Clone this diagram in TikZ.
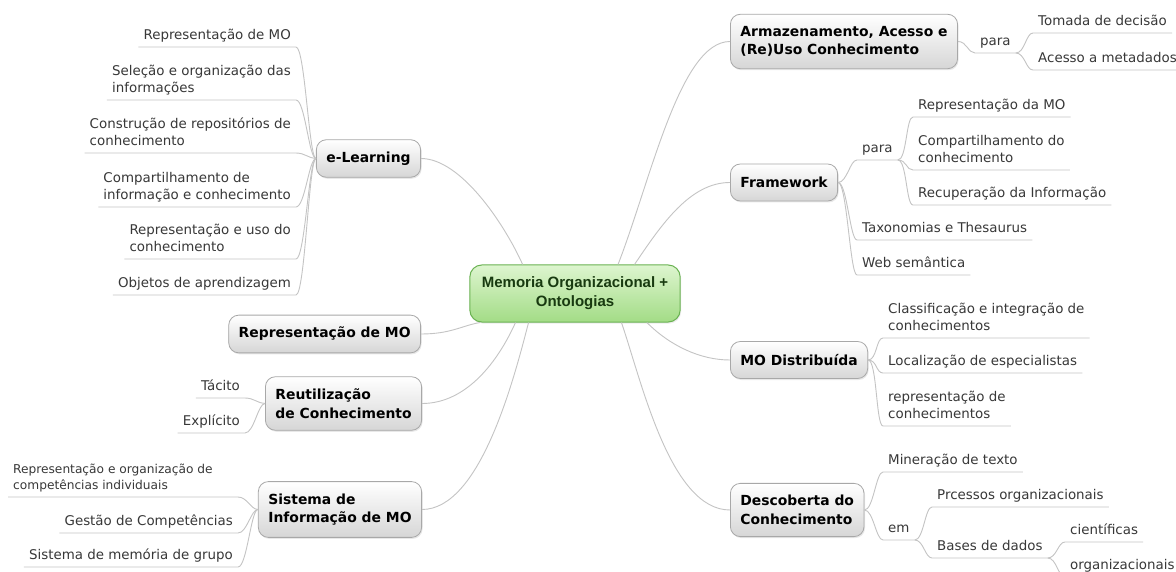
\documentclass[tikz,border=0pt]{standalone}
\usepackage{fontspec}
\setmainfont{DejaVu Sans}
\newfontfamily\corefont{Liberation Sans}
\usetikzlibrary{shadows}
\definecolor{linegray}{HTML}{C4C4C4}
\definecolor{topicline}{HTML}{A8A8A8}
\definecolor{topicbot}{HTML}{D6D6D6}
\definecolor{leaftext}{HTML}{383838}
\definecolor{coretop}{HTML}{DDF5CF}
\definecolor{corebot}{HTML}{A3DC86}
\definecolor{coreline}{HTML}{6AB252}
\definecolor{coretext}{HTML}{183A10}
\newcommand{\lastdp}{\rule[-3.5pt]{0pt}{0pt}}

\begin{document}
\begin{tikzpicture}[x=1pt,y=-1pt,
    topic/.style={rectangle, rounded corners=10pt, draw=topicline, line width=0.8pt,
        top color=white, bottom color=topicbot,
        drop shadow={opacity=0.18, shadow xshift=1pt, shadow yshift=-1.5pt},
        inner xsep=10pt, inner ysep=12pt, minimum height=37pt, align=left,
        font=\fontsize{13.9}{18.5}\selectfont\bfseries, text=black},
    core/.style={rectangle, rounded corners=12pt, draw=coreline, line width=1pt,
        top color=coretop, bottom color=corebot,
        drop shadow={opacity=0.15, shadow xshift=1pt, shadow yshift=-1.5pt},
        inner xsep=12pt, inner ysep=12pt, align=center,
        font=\corefont\fontsize{15}{19}\selectfont\bfseries, text=coretext},
    leaf/.style={inner xsep=5pt, inner ysep=4pt, text depth=3.5pt,
        font=\fontsize{13.4}{17}\selectfont, text=leaftext},
    leafm/.style={inner xsep=5pt, inner ysep=4pt, align=left,
        font=\fontsize{13.4}{17}\selectfont, text=leaftext},
    branch/.style={draw=linegray, line width=0.9pt}]
    \fill[white] (0,0) rectangle (1176,572);
    \useasboundingbox (0,0) rectangle (1176,572);

    \node[core] (mo) at (575,293.5) {Memoria Organizacional +\\Ontologias};

    % left side
    \node[topic, anchor=east] (el) at (421,158.5) {e-Learning};
    \node[topic, anchor=east] (rep) at (421,334) {Representação de MO};
    \node[topic, anchor=east] (reu) at (422,403.5) {Reutilização\\de Conhecimento};
    \node[topic, anchor=east] (sis) at (422,509.5) {Sistema de\\Informação de MO};

    \node[leaf, anchor=south east] (el1) at (296,47) {Representação de MO};
    \node[leafm, anchor=south east] (el2) at (296,100) {Seleção e organização das\\informações\lastdp};
    \node[leafm, anchor=south east] (el3) at (296,153) {Construção de repositórios de\\conhecimento\lastdp};
    \node[leafm, anchor=south east] (el4) at (296,207) {Compartilhamento de\\informação e conhecimento\lastdp};
    \node[leafm, anchor=south east] (el5) at (296,259) {Representação e uso do\\conhecimento\lastdp};
    \node[leaf, anchor=south east] (el6) at (296,295) {Objetos de aprendizagem};

    \node[leaf, anchor=south east] (ta) at (245,398) {Tácito};
    \node[leaf, anchor=south east] (ex) at (245,433) {Explícito};

    \node[leafm, anchor=south west, font=\fontsize{12.2}{16}\selectfont] (si1) at (8,497) {Representação e organização de\\competências individuais\lastdp};
    \node[leaf, anchor=south east] (si2) at (238,533) {Gestão de Competências};
    \node[leaf, anchor=south east] (si3) at (238,567) {Sistema de memória de grupo};

    % right side
    \node[topic, anchor=west] (arm) at (730,41.5) {Armazenamento, Acesso e\\(Re)Uso Conhecimento};
    \node[topic, anchor=west] (fw) at (730,182.5) {Framework};
    \node[topic, anchor=west] (dis) at (730,360) {MO Distribuída};
    \node[topic, anchor=west] (des) at (730,510) {Descoberta do\\Conhecimento};

    \node[leaf, anchor=south west] (pa1) at (975,53) {para};
    \node[leaf, anchor=south west] (tom) at (1033,33) {Tomada de decisão};
    \node[leaf, anchor=south west] (ace) at (1033,70) {Acesso a metadados};

    \node[leaf, anchor=south west] (pa2) at (857,160) {para};
    \node[leaf, anchor=south west] (rdm) at (913,117) {Representação da MO};
    \node[leafm, anchor=south west] (cdc) at (913,170) {Compartilhamento do\\conhecimento\lastdp};
    \node[leaf, anchor=south west] (rdi) at (913,205) {Recuperação da Informação};
    \node[leaf, anchor=south west] (tax) at (857,240) {Taxonomias e Thesaurus};
    \node[leaf, anchor=south west] (web) at (857,275) {Web semântica};

    \node[leafm, anchor=south west] (cla) at (883,338) {Classificação e integração de\\conhecimentos\lastdp};
    \node[leaf, anchor=south west] (loc) at (883,373) {Localização de especialistas};
    \node[leafm, anchor=south west] (rdc) at (883,426) {representação de\\conhecimentos\lastdp};

    \node[leaf, anchor=south west] (min) at (883,472) {Mineração de texto};
    \node[leaf, anchor=south west] (em) at (883,540) {em};
    \node[leaf, anchor=south west] (prc) at (932,507) {Prcessos organizacionais};
    \node[leaf, anchor=south west] (bdd) at (932,558) {Bases de dados};
    \node[leaf, anchor=south west] (cie) at (1065,542) {científicas};
    \node[leaf, anchor=south west] (org) at (1065,577) {organizacionais};

    % main branches
    \draw[branch] (el.east) .. controls +(40,0) and +(-18,-40) .. (mo.151);
    \draw[branch] (rep.east) .. controls +(30,0) and +(-18,3) .. (mo.197);
    \draw[branch] (reu.east) .. controls +(45,0) and +(-17,38) .. (mo.206);
    \draw[branch] (sis.east) .. controls +(58,0) and +(-15,58) .. (mo.212);
    \draw[branch] (arm.west) .. controls +(-50,0) and +(33,-85) .. (mo.34);
    \draw[branch] (fw.west) .. controls +(-40,0) and +(27,-40) .. (mo.26);
    \draw[branch] (dis.west) .. controls +(-30,0) and +(23,23) .. (mo.338);
    \draw[branch] (des.west) .. controls +(-60,0) and +(20,58) .. (mo.328);

    % sub branches, left
    \draw[branch] (el1.south west) -- (el1.south east) .. controls +(9,0) and +(-7,0) .. (el.west);
    \draw[branch] (el2.south west) -- (el2.south east) .. controls +(9,0) and +(-7,0) .. (el.west);
    \draw[branch] (el3.south west) -- (el3.south east) .. controls +(9,0) and +(-7,0) .. (el.west);
    \draw[branch] (el4.south west) -- (el4.south east) .. controls +(9,0) and +(-7,0) .. (el.west);
    \draw[branch] (el5.south west) -- (el5.south east) .. controls +(9,0) and +(-7,0) .. (el.west);
    \draw[branch] (el6.south west) -- (el6.south east) .. controls +(9,0) and +(-7,0) .. (el.west);
    \draw[branch] (ta.south west) -- (ta.south east) .. controls +(9,0) and +(-7,0) .. (reu.west);
    \draw[branch] (ex.south west) -- (ex.south east) .. controls +(9,0) and +(-7,0) .. (reu.west);
    \draw[branch] (si1.south west) -- (si1.south west -| si2.south east) .. controls +(9,0) and +(-7,0) .. (sis.west);
    \draw[branch] (si2.south west) -- (si2.south east) .. controls +(9,0) and +(-7,0) .. (sis.west);
    \draw[branch] (si3.south west) -- (si3.south east) .. controls +(9,0) and +(-7,0) .. (sis.west);

    % sub branches, right
    \draw[branch] (arm.east) .. controls +(9,0) and +(-7,0) .. (pa1.south west) -- (pa1.south east);
    \draw[branch] (pa1.south east) .. controls +(9,0) and +(-7,0) .. (tom.south west) -- (tom.south east);
    \draw[branch] (pa1.south east) .. controls +(9,0) and +(-7,0) .. (ace.south west) -- (ace.south east);
    \draw[branch] (fw.east) .. controls +(9,0) and +(-7,0) .. (pa2.south west) -- (pa2.south east);
    \draw[branch] (pa2.south east) .. controls +(9,0) and +(-7,0) .. (rdm.south west) -- (rdm.south east);
    \draw[branch] (pa2.south east) .. controls +(9,0) and +(-7,0) .. (cdc.south west) -- (cdc.south east);
    \draw[branch] (pa2.south east) .. controls +(9,0) and +(-7,0) .. (rdi.south west) -- (rdi.south east);
    \draw[branch] (fw.east) .. controls +(9,0) and +(-7,0) .. (tax.south west) -- (tax.south east);
    \draw[branch] (fw.east) .. controls +(9,0) and +(-7,0) .. (web.south west) -- (web.south east);
    \draw[branch] (dis.east) .. controls +(9,0) and +(-7,0) .. (cla.south west) -- (cla.south east);
    \draw[branch] (dis.east) .. controls +(9,0) and +(-7,0) .. (loc.south west) -- (loc.south east);
    \draw[branch] (dis.east) .. controls +(9,0) and +(-7,0) .. (rdc.south west) -- (rdc.south east);
    \draw[branch] (des.east) .. controls +(9,0) and +(-7,0) .. (min.south west) -- (min.south east);
    \draw[branch] (des.east) .. controls +(9,0) and +(-7,0) .. (em.south west) -- (em.south east);
    \draw[branch] (em.south east) .. controls +(9,0) and +(-7,0) .. (prc.south west) -- (prc.south east);
    \draw[branch] (em.south east) .. controls +(9,0) and +(-7,0) .. (bdd.south west) -- (bdd.south east);
    \draw[branch] (bdd.south east) .. controls +(9,0) and +(-7,0) .. (cie.south west) -- (cie.south east);
    \draw[branch] (bdd.south east) .. controls +(9,0) and +(-7,0) .. (org.south west) -- (org.south east);
\end{tikzpicture}
\end{document}
